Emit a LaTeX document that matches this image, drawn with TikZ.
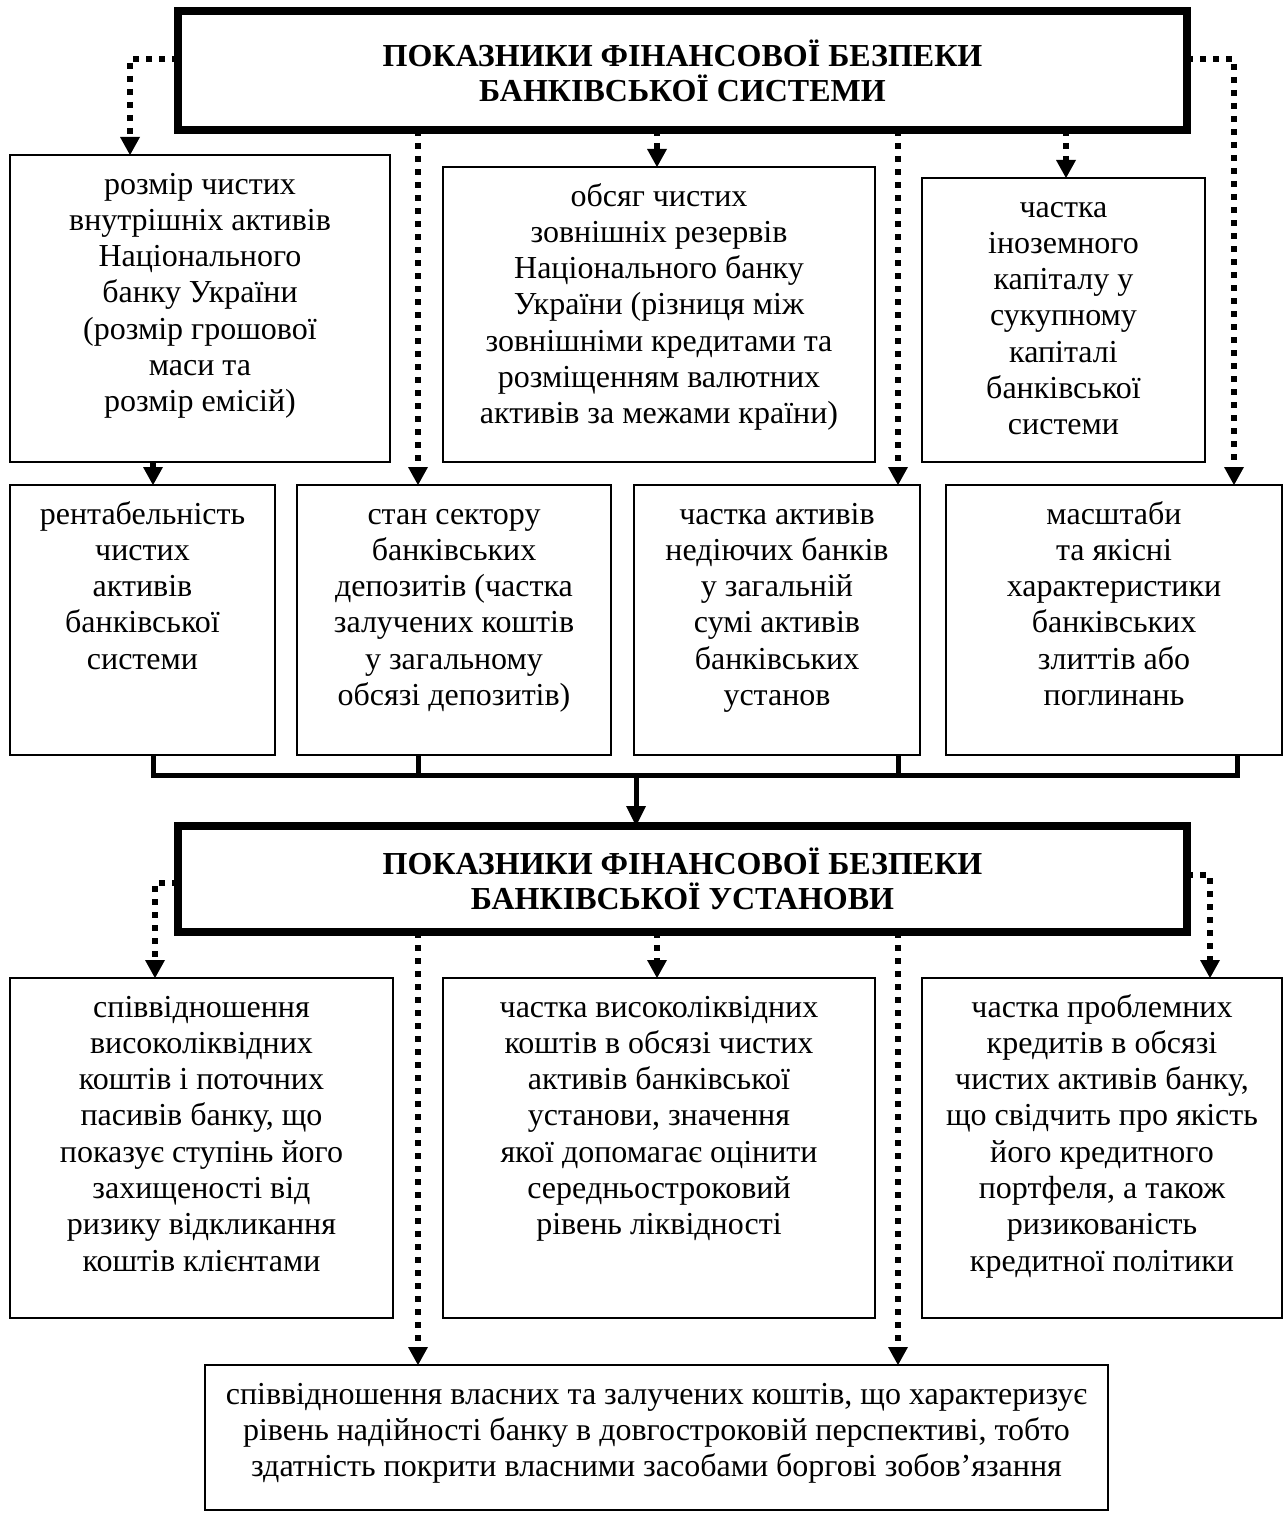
\documentclass[tikz,border=0pt]{standalone}
\usepackage{fontspec}
\setmainfont{Liberation Serif}
\usetikzlibrary{arrows.meta}

% plain text box: name, x1, y1, x2, y2, text (top aligned, centred lines)
\newcommand\txtbox[6]{%
  \node[plainbox, minimum width={#4-#2}, minimum height={#5-#3}, anchor=north west] (#1) at (#2,#3)
  {\parbox[c][\dimexpr#5pt-#3pt\relax][t]{\dimexpr#4pt-#2pt\relax}{\centering\rule{0pt}{39pt}#6}};}

\begin{document}
\begin{tikzpicture}[x=1pt,y=-1pt,
  every node/.style={inner sep=0pt, outer sep=0pt},
  plainbox/.style={draw, line width=2pt, font=\fontsize{32}{36.3}\selectfont},
  titlebox/.style={draw, line width=8pt, align=center,
    font=\fontsize{32}{35}\selectfont\bfseries},
  dots/.style={line width=6pt, dash pattern=on 6pt off 7pt, line cap=butt,
    -{Triangle[width=20pt,length=18pt,line width=0pt]}},
  bus/.style={line width=5pt, line join=miter},
  busarrow/.style={line width=5pt, -{Triangle[width=20pt,length=20pt,line width=0pt]}}
]
\useasboundingbox (0,0) rectangle (1285,1517);

% ---- upper level: banking system ----
\node[titlebox, minimum width=1009, minimum height=119] (T) at (682.5,70.5)
  {ПОКАЗНИКИ ФІНАНСОВОЇ БЕЗПЕКИ\\БАНКІВСЬКОЇ СИСТЕМИ};

\txtbox{A}{10}{155}{390}{462}{розмір чистих\\ внутрішніх активів\\ Національного\\ банку України\\ (розмір грошової\\ маси та\\ розмір емісій)}
\txtbox{B}{443}{167}{875}{462}{обсяг чистих\\ зовнішніх резервів\\ Національного банку\\ України (різниця між\\ зовнішніми кредитами та\\ розміщенням валютних\\ активів за межами країни)}
\txtbox{C}{922}{178}{1205}{462}{частка\\ іноземного\\ капіталу у\\ сукупному\\ капіталі\\ банківської\\ системи}

\txtbox{D}{10}{485}{275}{755}{рентабельність\\ чистих\\ активів\\ банківської\\ системи}
\txtbox{E}{297}{485}{611}{755}{стан сектору\\ банківських\\ депозитів (частка\\ залучених коштів\\ у загальному\\ обсязі депозитів)}
\txtbox{F}{634}{485}{920}{755}{частка активів\\ недіючих банків\\ у загальній\\ сумі активів\\ банківських\\ установ}
\txtbox{G}{946}{485}{1282}{755}{масштаби\\ та якісні\\ характеристики\\ банківських\\ злиттів або\\ поглинань}

% dotted links from the upper title
\coordinate (tl) at (130,59);
\coordinate (tr) at (1234,59);
\draw[dots] (T.west |- tl) -- (tl) -- (tl |- A.north);
\draw[dots] (T.east |- tr) -- (tr) -- (tr |- G.north);
\draw[dots] (T.south -| 657,0) -- (B.north -| 657,0);
\draw[dots] (T.south -| 418,0) -- (E.north -| 418,0);
\draw[dots] (T.south -| 898,0) -- (F.north -| 898,0);
\draw[dots] (T.south -| 1066,0) -- (C.north -| 1066,0);
\draw[dots] (A.south -| 153,0) -- (D.north -| 153,0);

% collecting bus
\coordinate (busL) at (153,775);
\coordinate (busR) at (1237,775);
\coordinate (busM) at (636,775);
\draw[bus] (D.south -| busL) -- (busL) -- (busR) -- (G.south -| busR);
\draw[bus] (E.south -| 418,0) -- (418,775);
\draw[bus] (F.south -| 898,0) -- (898,775);

% ---- lower level: banking institution ----
\node[titlebox, minimum width=1009, minimum height=106] (S) at (682.5,879)
  {ПОКАЗНИКИ ФІНАНСОВОЇ БЕЗПЕКИ\\БАНКІВСЬКОЇ УСТАНОВИ};
\draw[busarrow] (busM) -- (S.north -| busM);

\txtbox{H}{10}{978}{393}{1318}{співвідношення\\ високоліквідних\\ коштів і поточних\\ пасивів банку, що\\ показує ступінь його\\ захищеності від\\ ризику відкликання\\ коштів клієнтами}
\txtbox{I}{443}{978}{875}{1318}{частка високоліквідних\\ коштів в обсязі чистих\\ активів банківської\\ установи, значення\\ якої допомагає оцінити\\ середньостроковий\\ рівень ліквідності}
\txtbox{J}{922}{978}{1282}{1318}{частка проблемних\\ кредитів в обсязі\\ чистих активів банку,\\ що свідчить про якість\\ його кредитного\\ портфеля, а також\\ ризикованість\\ кредитної політики}
\txtbox{K}{205}{1365}{1108}{1510}{співвідношення власних та залучених коштів, що характеризує\\ рівень надійності банку в довгостроковій перспективі, тобто\\ здатність покрити власними засобами боргові зобов’язання}

\coordinate (sl) at (155,883);
\coordinate (sr) at (1210,875);
\draw[dots] (S.west |- sl) -- (sl) -- (sl |- H.north);
\draw[dots] (S.east |- sr) -- (sr) -- (sr |- J.north);
\draw[dots] (S.south -| 657,0) -- (I.north -| 657,0);
\draw[dots] (S.south -| 418,0) -- (K.north -| 418,0);
\draw[dots] (S.south -| 898,0) -- (K.north -| 898,0);
\end{tikzpicture}
\end{document}
